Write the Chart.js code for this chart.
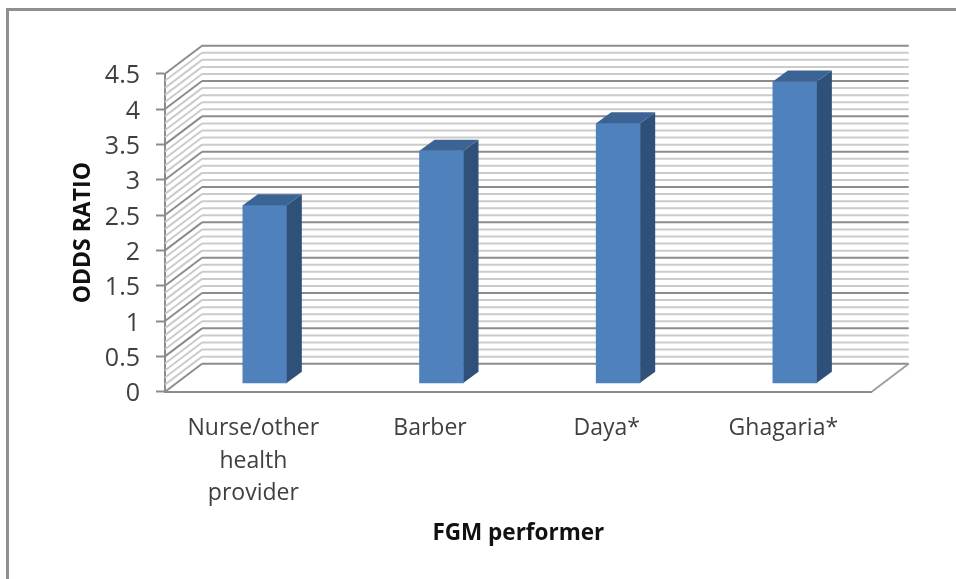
<!DOCTYPE html>
<html>
<head>
<meta charset="utf-8">
<style>
  html, body { margin: 0; padding: 0; background: #fff; }
  canvas { display: block; }
</style>
<script src="https://cdn.jsdelivr.net/npm/chart.js@4"></script>
</head>
<body>
<canvas id="oddsChart" width="956" height="579"></canvas>
<script>
// values
const performers = [['Nurse/other', 'health', 'provider'], 'Barber', 'Daya*', 'Ghagaria*'];
const oddsRatios = [2.52, 3.29, 3.68, 4.27];
const yTicks = [0, 0.5, 1, 1.5, 2, 2.5, 3, 3.5, 4, 4.5];
const yMinorTicks = [0.1, 0.2, 0.3, 0.4, 0.6, 0.7, 0.8, 0.9, 1.1, 1.2, 1.3, 1.4, 1.6, 1.7, 1.8, 1.9,
    2.1, 2.2, 2.3, 2.4, 2.6, 2.7, 2.8, 2.9, 3.1, 3.2, 3.3, 3.4, 3.6, 3.7, 3.8, 3.9, 4.1, 4.2, 4.3, 4.4];

const FONT = '"Open Sans", sans-serif';
const GRID_MAJOR = '#8c8c8c';
const GRID_MINOR = '#cbcbcb';

// fake 3D box: wall depth and bar depth, in pixels
const wall = { dx: 37, dy: -28 };
const barShift = { dx: 11.5, dy: -8.4 };
const barDepth = { dx: 15, dy: -11 };

function line(ctx, x1, y1, x2, y2, color, width = 2) {
    ctx.strokeStyle = color;
    ctx.lineWidth = width;
    ctx.beginPath();
    ctx.moveTo(x1, y1);
    ctx.lineTo(x2, y2);
    ctx.stroke();
}

function quad(ctx, pts, color) {
    ctx.fillStyle = color;
    ctx.beginPath();
    ctx.moveTo(pts[0][0], pts[0][1]);
    pts.slice(1).forEach(p => ctx.lineTo(p[0], p[1]));
    ctx.closePath();
    ctx.fill();
}

const box3d = {
    id: 'box3d',
    beforeDraw(chart) {
        // open sans sits high on the tick, nudge the value labels down
        chart.scales.y.getLabelItems(chart.chartArea).forEach(item => {
            item.options.translation[1] += 2.5;
        });
    },
    beforeDatasetsDraw(chart) {
        const { ctx, chartArea: area, scales: { y } } = chart;
        const drawWallLine = (value, color) => {
            const py = y.getPixelForValue(value);
            line(ctx, area.left, py, area.left + wall.dx, py + wall.dy, color);
            line(ctx, area.left + wall.dx, py + wall.dy, area.right + wall.dx, py + wall.dy, color);
        };
        ctx.save();
        yMinorTicks.forEach(v => drawWallLine(v, GRID_MINOR));
        yTicks.forEach(v => drawWallLine(v, GRID_MAJOR));
        // floor edge on the right
        const py0 = y.getPixelForValue(0);
        line(ctx, area.right, py0, area.right + wall.dx, py0 + wall.dy, '#a0a0a0');
        ctx.restore();

        // bars stand a bit behind the front plane
        ctx.save();
        ctx.translate(barShift.dx, barShift.dy);
    },
    afterDatasetsDraw(chart) {
        const { ctx } = chart;
        chart.getDatasetMeta(0).data.forEach(bar => {
            const left = bar.x - bar.width / 2;
            const right = bar.x + bar.width / 2;
            const { dx, dy } = barDepth;
            quad(ctx, [[right, bar.y], [right + dx, bar.y + dy], [right + dx, bar.base + dy], [right, bar.base]], '#2f5179');
            quad(ctx, [[left, bar.y], [left + dx, bar.y + dy], [right + dx, bar.y + dy], [right, bar.y]], '#3b6495');
        });
        ctx.restore();

        // outer frame of the figure
        ctx.save();
        line(ctx, 7.5, 579, 7.5, 8, '#8f8f8f', 3);
        line(ctx, 6, 9.5, 956, 9.5, '#8f8f8f', 3);
        ctx.restore();
    }
};

new Chart(document.getElementById('oddsChart'), {
    type: 'bar',
    data: {
        labels: performers,
        datasets: [{
            data: oddsRatios,
            backgroundColor: '#4f81bd',
            barThickness: 44,
            clip: false
        }]
    },
    options: {
        responsive: false,
        animation: false,
        layout: { padding: { left: 0, top: 73.7, right: 84.3, bottom: 0 } },
        plugins: { legend: { display: false }, tooltip: { enabled: false } },
        scales: {
            x: {
                afterFit: s => { s.height = 187.3; },
                grid: { drawOnChartArea: false, drawTicks: false },
                border: { color: GRID_MAJOR, width: 2 },
                ticks: {
                    autoSkip: false,
                    maxRotation: 0,
                    padding: 20,
                    color: '#404040',
                    font: { family: FONT, size: 23, lineHeight: 1.43 }
                },
                title: {
                    display: true,
                    text: 'FGM performer',
                    color: '#111',
                    padding: { top: 0, bottom: 32 },
                    font: { family: FONT, size: 22.5, weight: 'bold', lineHeight: 1.2 }
                }
            },
            y: {
                min: yTicks[0],
                max: yTicks[yTicks.length - 1],
                afterBuildTicks: s => { s.ticks = yTicks.map(value => ({ value })); },
                afterFit: s => { s.width = 165; },
                grid: { drawOnChartArea: false, tickLength: 9, tickWidth: 2, tickColor: GRID_MAJOR },
                border: { color: GRID_MAJOR, width: 2 },
                ticks: {
                    padding: 16,
                    color: '#404040',
                    font: { family: FONT, size: 25 },
                    callback: v => String(v)
                },
                title: {
                    display: true,
                    text: 'ODDS RATIO',
                    color: '#111',
                    padding: { top: 70, bottom: 0 },
                    font: { family: FONT, size: 23, weight: 'bold', lineHeight: 1.2 }
                }
            }
        }
    },
    plugins: [box3d]
});
</script>
</body>
</html>
